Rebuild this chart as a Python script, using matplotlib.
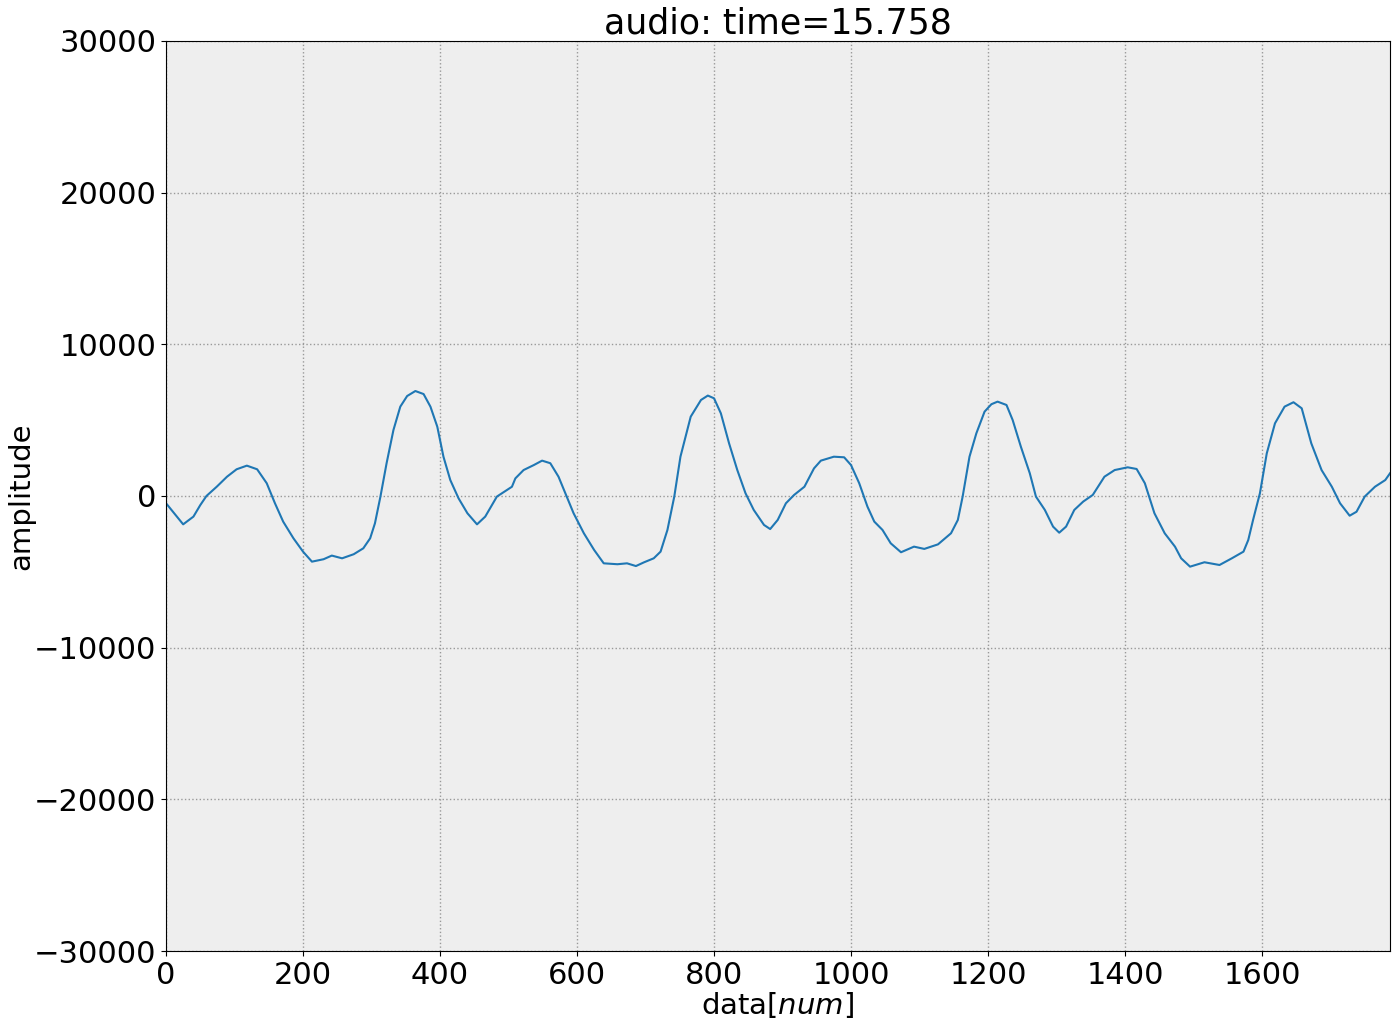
import matplotlib
matplotlib.use("Agg")
import matplotlib.pyplot as plt

plt.rcParams['font.family'] = ['DejaVu Sans']
plt.rcParams['mathtext.fontset'] = 'dejavusans'

title = "audio: time=15.758"
x_label = "data[$num$]"
y_label = "amplitude"

sample_idx = [
    0, 25, 40, 50, 59, 74, 89, 103, 118, 133, 147, 159, 171, 186, 200, 213,
    230, 242, 257, 274, 288, 298, 305, 313, 322, 332, 342, 352, 364, 376,
    386, 396, 405, 415, 427, 440, 454, 466, 483, 505, 510, 522, 537, 549,
    561, 573, 583, 595, 610, 625, 639, 659, 673, 686, 698, 712, 722, 732,
    742, 751, 766, 781, 791, 800, 810, 822, 834, 846, 858, 873, 882, 893,
    905, 917, 932, 946, 956, 975, 990, 1000, 1012, 1024, 1034, 1046, 1058,
    1073, 1092, 1107, 1127, 1146, 1156, 1163, 1173, 1183, 1195, 1205, 1214,
    1227, 1236, 1248, 1261, 1270, 1283, 1295, 1304, 1314, 1326, 1339, 1353,
    1370, 1385, 1404, 1417, 1429, 1443, 1458, 1473, 1482, 1495, 1516, 1538,
    1556, 1573, 1580, 1587, 1597, 1607, 1619, 1633, 1646, 1658, 1672, 1687,
    1702, 1714, 1728, 1738, 1750, 1765, 1780, 1787,
]
amplitude = [
    -480, -1870, -1360, -600, 0, 610, 1270, 1760, 2000, 1760, 840, -480,
    -1690, -2790, -3670, -4330, -4170, -3930, -4110, -3840, -3450, -2790,
    -1800, -40, 2160, 4350, 5890, 6590, 6920, 6720, 5890, 4570, 2590, 1050,
    -150, -1140, -1870, -1360, -40, 610, 1160, 1710, 2040, 2330, 2160, 1270,
    180, -1140, -2460, -3560, -4440, -4500, -4440, -4620, -4370, -4110,
    -3670, -2240, -40, 2590, 5230, 6330, 6620, 6440, 5450, 3470, 1710, 180,
    -920, -1910, -2180, -1580, -480, 70, 610, 1820, 2330, 2590, 2550, 2040,
    840, -700, -1690, -2240, -3120, -3710, -3340, -3490, -3190, -2460, -1580,
    -40, 2590, 4130, 5560, 6050, 6220, 6000, 5010, 3250, 1500, -40, -920,
    -2020, -2420, -2020, -920, -370, 70, 1270, 1710, 1890, 1780, 840, -1140,
    -2460, -3340, -4110, -4660, -4370, -4550, -4110, -3670, -2900, -1580,
    180, 2810, 4790, 5890, 6180, 5780, 3470, 1710, 610, -480, -1300, -1040,
    -40, 610, 1050, 1500,
]

x_ticks = [0, 200, 400, 600, 800, 1000, 1200, 1400, 1600]
y_ticks = [-30000, -20000, -10000, 0, 10000, 20000, 30000]

fig = plt.figure(figsize=(14, 10.29), dpi=100)
ax = fig.add_axes([0.1186, 0.0758, 0.8743, 0.8844])
ax.set_facecolor('#eeeeee')
ax.plot(sample_idx, amplitude, color='#1f77b4', linewidth=1.5)
ax.set_xlim(0, 1787)
ax.set_ylim(-30000, 30000)
ax.set_xticks(x_ticks)
ax.set_yticks(y_ticks)
ax.grid(True, linestyle=':', color='#999999', linewidth=1.0)
ax.set_axisbelow(True)
ax.tick_params(labelsize=22, length=3.5)
ax.set_title(title, fontsize=25, pad=1)
ax.set_xlabel(x_label, fontsize=21, labelpad=0)
ax.set_ylabel(y_label, fontsize=21, labelpad=-1)
for s in ax.spines.values():
    s.set_color('black')
fig.savefig('out.png', dpi=100)
